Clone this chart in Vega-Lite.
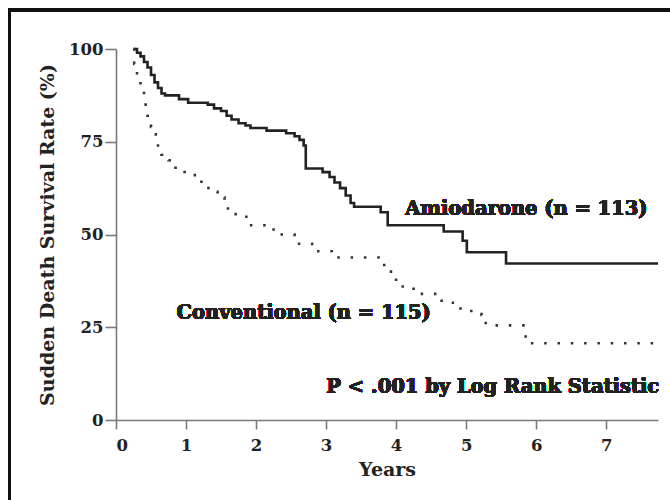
{
  "$schema": "https://vega.github.io/schema/vega-lite/v6.json",
  "autosize": "none",
  "width": 542,
  "height": 371,
  "padding": {"left": 116, "top": 49, "right": 12, "bottom": 80},
  "background": "white",
  "config": {
    "view": {"stroke": null},
    "axis": {
      "grid": false,
      "domainColor": "#7a7a7a",
      "domainWidth": 1.6,
      "tickColor": "#7a7a7a",
      "tickWidth": 1.6,
      "labelFont": "DejaVu Serif",
      "labelFontWeight": "bold",
      "labelFontSize": 16.5,
      "labelColor": "#222",
      "titleFont": "DejaVu Serif",
      "titleFontWeight": "bold",
      "titleFontSize": 19,
      "titleColor": "#222"
    }
  },
  "data": {
    "values": [
      {"group": "Amiodarone", "t": 0.25, "s": 100},
      {"group": "Amiodarone", "t": 0.30, "s": 99},
      {"group": "Amiodarone", "t": 0.35, "s": 98},
      {"group": "Amiodarone", "t": 0.40, "s": 96.5},
      {"group": "Amiodarone", "t": 0.45, "s": 95},
      {"group": "Amiodarone", "t": 0.50, "s": 93},
      {"group": "Amiodarone", "t": 0.55, "s": 91},
      {"group": "Amiodarone", "t": 0.60, "s": 89.5},
      {"group": "Amiodarone", "t": 0.65, "s": 88},
      {"group": "Amiodarone", "t": 0.70, "s": 87.5},
      {"group": "Amiodarone", "t": 0.90, "s": 86.5},
      {"group": "Amiodarone", "t": 1.03, "s": 85.5},
      {"group": "Amiodarone", "t": 1.31, "s": 85},
      {"group": "Amiodarone", "t": 1.40, "s": 84},
      {"group": "Amiodarone", "t": 1.50, "s": 83.3},
      {"group": "Amiodarone", "t": 1.58, "s": 82},
      {"group": "Amiodarone", "t": 1.65, "s": 81},
      {"group": "Amiodarone", "t": 1.75, "s": 80},
      {"group": "Amiodarone", "t": 1.85, "s": 79.4},
      {"group": "Amiodarone", "t": 1.92, "s": 78.7},
      {"group": "Amiodarone", "t": 2.15, "s": 78},
      {"group": "Amiodarone", "t": 2.43, "s": 77.3},
      {"group": "Amiodarone", "t": 2.55, "s": 76.5},
      {"group": "Amiodarone", "t": 2.62, "s": 75.5},
      {"group": "Amiodarone", "t": 2.68, "s": 74},
      {"group": "Amiodarone", "t": 2.71, "s": 67.8},
      {"group": "Amiodarone", "t": 2.95, "s": 66.8},
      {"group": "Amiodarone", "t": 3.05, "s": 65.5},
      {"group": "Amiodarone", "t": 3.12, "s": 64},
      {"group": "Amiodarone", "t": 3.20, "s": 62.5},
      {"group": "Amiodarone", "t": 3.28, "s": 60.5},
      {"group": "Amiodarone", "t": 3.35, "s": 58.5},
      {"group": "Amiodarone", "t": 3.40, "s": 57.5},
      {"group": "Amiodarone", "t": 3.78, "s": 56},
      {"group": "Amiodarone", "t": 3.88, "s": 52.5},
      {"group": "Amiodarone", "t": 4.68, "s": 50.8},
      {"group": "Amiodarone", "t": 4.95, "s": 48.3},
      {"group": "Amiodarone", "t": 5.01, "s": 45.2},
      {"group": "Amiodarone", "t": 5.57, "s": 42.2},
      {"group": "Amiodarone", "t": 7.74, "s": 42.2},
      {"group": "Conventional", "t": 0.25, "s": 100},
      {"group": "Conventional", "t": 0.26, "s": 96},
      {"group": "Conventional", "t": 0.30, "s": 92},
      {"group": "Conventional", "t": 0.35, "s": 88.5},
      {"group": "Conventional", "t": 0.40, "s": 85},
      {"group": "Conventional", "t": 0.45, "s": 82},
      {"group": "Conventional", "t": 0.50, "s": 79},
      {"group": "Conventional", "t": 0.55, "s": 77},
      {"group": "Conventional", "t": 0.60, "s": 74},
      {"group": "Conventional", "t": 0.65, "s": 71.5},
      {"group": "Conventional", "t": 0.75, "s": 70},
      {"group": "Conventional", "t": 0.85, "s": 68},
      {"group": "Conventional", "t": 0.98, "s": 66},
      {"group": "Conventional", "t": 1.15, "s": 65},
      {"group": "Conventional", "t": 1.22, "s": 63.5},
      {"group": "Conventional", "t": 1.32, "s": 61.5},
      {"group": "Conventional", "t": 1.45, "s": 60},
      {"group": "Conventional", "t": 1.55, "s": 57},
      {"group": "Conventional", "t": 1.68, "s": 55.5},
      {"group": "Conventional", "t": 1.80, "s": 54.8},
      {"group": "Conventional", "t": 1.93, "s": 52.5},
      {"group": "Conventional", "t": 2.25, "s": 50},
      {"group": "Conventional", "t": 2.55, "s": 47.5},
      {"group": "Conventional", "t": 2.80, "s": 45.5},
      {"group": "Conventional", "t": 3.08, "s": 43.8},
      {"group": "Conventional", "t": 3.75, "s": 42.4},
      {"group": "Conventional", "t": 3.83, "s": 40},
      {"group": "Conventional", "t": 4.00, "s": 36},
      {"group": "Conventional", "t": 4.25, "s": 34},
      {"group": "Conventional", "t": 4.65, "s": 31.6},
      {"group": "Conventional", "t": 4.92, "s": 29.4},
      {"group": "Conventional", "t": 5.22, "s": 28.3},
      {"group": "Conventional", "t": 5.28, "s": 25.5},
      {"group": "Conventional", "t": 5.85, "s": 22},
      {"group": "Conventional", "t": 5.92, "s": 20.7},
      {"group": "Conventional", "t": 7.70, "s": 20.7}
    ]
  },
  "layer": [
    {
      "mark": {"type": "rect", "fill": null, "stroke": "#111", "strokeWidth": 2.5, "clip": false},
      "encoding": {
        "x": {"datum": -1.523, "type": "quantitative"},
        "x2": {"datum": 9.5},
        "y": {"datum": 110.5, "type": "quantitative"},
        "y2": {"datum": -40}
      }
    },
    {
      "transform": [{"filter": "datum.group === 'Amiodarone'"}],
      "mark": {"type": "line", "interpolate": "step-after", "color": "#222", "strokeWidth": 2.6},
      "encoding": {
        "x": {
          "field": "t", "type": "quantitative",
          "scale": {"domain": [0, 7.74], "nice": false, "zero": false},
          "axis": {"title": "Years", "values": [0,1,2,3,4,5,6,7], "tickSize": 9, "labelPadding": 8, "titlePadding": 7, "format": "d"}
        },
        "y": {
          "field": "s", "type": "quantitative",
          "scale": {"domain": [0, 100], "nice": false},
          "axis": {"title": "Sudden Death Survival Rate (%)", "values": [0,25,50,75,100], "tickSize": 11, "labelPadding": 2, "titlePadding": 11}
        }
      }
    },
    {
      "transform": [{"filter": "datum.group === 'Conventional'"}],
      "mark": {"type": "line", "interpolate": "step-after", "color": "#333", "strokeWidth": 2.6, "strokeDash": [2.5, 10.8]},
      "encoding": {
        "x": {"field": "t", "type": "quantitative"},
        "y": {"field": "s", "type": "quantitative"}
      }
    },
    {
      "mark": {"type": "text", "text": "Amiodarone (n = 113)", "font": "DejaVu Serif", "fontWeight": "bold", "fontSize": 19.5, "color": "#222", "align": "center", "baseline": "middle"},
      "encoding": {
        "x": {"datum": 5.86, "type": "quantitative"},
        "y": {"datum": 56.9, "type": "quantitative"}
      }
    },
    {
      "mark": {"type": "text", "text": "Conventional (n = 115)", "font": "DejaVu Serif", "fontWeight": "bold", "fontSize": 19.5, "color": "#222", "align": "center", "baseline": "middle"},
      "encoding": {
        "x": {"datum": 2.68, "type": "quantitative"},
        "y": {"datum": 28.8, "type": "quantitative"}
      }
    },
    {
      "mark": {"type": "text", "text": "P < .001 by Log Rank Statistic", "font": "DejaVu Serif", "fontWeight": "bold", "fontSize": 19.5, "color": "#222", "align": "center", "baseline": "middle"},
      "encoding": {
        "x": {"datum": 5.38, "type": "quantitative"},
        "y": {"datum": 9.0, "type": "quantitative"}
      }
    }
  ]
}
